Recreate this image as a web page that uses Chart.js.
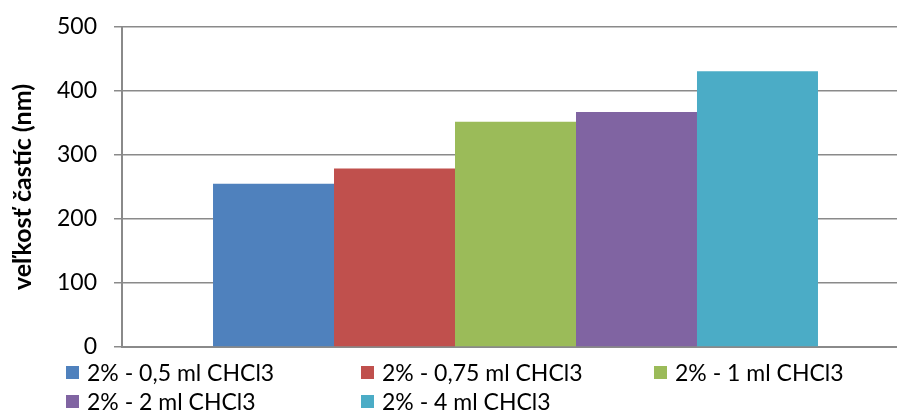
<!DOCTYPE html>
<html>
<head>
<meta charset="utf-8">
<script src="https://cdn.jsdelivr.net/npm/chart.js@4/dist/chart.umd.min.js"></script>
<style>
  html, body { margin: 0; padding: 0; background: #fff; overflow: hidden; }
  #wrap { position: relative; width: 897px; height: 410px; overflow: hidden; }
  #box { position: absolute; left: 0; top: 0; width: 909px; height: 410px; }
  #legend { position: absolute; left: 0; top: 0; width: 897px; height: 410px; pointer-events: none;
            font-family: Lato, "Noto Sans", sans-serif; font-size: 23px; color: #000; }
  .item { position: absolute; white-space: nowrap; line-height: 26px; height: 26px; }
  .sw { position: absolute; left: 0; top: 7px; width: 13px; height: 13px; }
  .tx { position: absolute; left: 21px; top: 0; }
</style>
</head>
<body>
<div id="wrap">
  <div id="box"><canvas id="c"></canvas></div>
  <div id="legend"></div>
</div>
<script>
// Particle size by amount of chloroform (2 % solution)
const categories = [''];
const seriesNames = [
  '2% - 0,5 ml CHCl3',
  '2% - 0,75 ml CHCl3',
  '2% - 1 ml CHCl3',
  '2% - 2 ml CHCl3',
  '2% - 4 ml CHCl3'
];
const sizeNm = [255, 279, 352, 367, 431];
const yTicks = [0, 100, 200, 300, 400, 500];
const axisTitle = 'veľkosť častíc (nm)';

const colors = ['#4F81BD', '#C0504D', '#9BBB59', '#8064A2', '#4BACC6'];
const gridColor = '#8a8a8a';
const font = 'Lato, "Noto Sans", sans-serif';

const datasets = seriesNames.map((name, i) => ({
  label: name,
  data: [sizeNm[i]],
  backgroundColor: colors[i],
  borderWidth: 0,
  categoryPercentage: 0.7687,
  barPercentage: 1
}));

new Chart(document.getElementById('c'), {
  type: 'bar',
  data: { labels: categories, datasets },
  options: {
    responsive: true,
    maintainAspectRatio: false,
    animation: false,
    layout: { padding: { top: 27, right: 0, bottom: 0, left: 0 } },
    plugins: { legend: { display: false }, tooltip: { enabled: false } },
    scales: {
      x: {
        grid: { display: false },
        border: { display: true, color: gridColor, width: 2 },
        ticks: { display: false },
        afterFit: s => { s.height = 63; s.paddingLeft = 0; s.paddingRight = 0; }
      },
      y: {
        min: 0,
        max: 500,
        afterBuildTicks: s => { s.ticks = yTicks.map(v => ({ value: v })); },
        ticks: { color: '#000', padding: 17, font: { family: font, size: 23 } },
        grid: { color: gridColor, lineWidth: 1.5, tickLength: 8, drawTicks: true },
        border: { display: true, color: gridColor, width: 2 },
        title: {
          display: true,
          text: axisTitle,
          color: '#000',
          font: { family: font, size: 25, weight: 'bold' },
          padding: { top: 8, bottom: 0 }
        },
        afterFit: s => { s.width = 122; s.paddingTop = 0; s.paddingBottom = 0; }
      }
    }
  }
});

// Legend laid out in three columns below the plot
const legendPos = [[66, 359], [361, 359], [654, 359], [66, 388], [361, 388]];
const legend = document.getElementById('legend');
seriesNames.forEach((name, i) => {
  const d = document.createElement('div');
  d.className = 'item';
  d.style.left = legendPos[i][0] + 'px';
  d.style.top = legendPos[i][1] + 'px';
  const sw = document.createElement('span');
  sw.className = 'sw';
  sw.style.background = colors[i];
  const tx = document.createElement('span');
  tx.className = 'tx';
  tx.textContent = name;
  d.appendChild(sw);
  d.appendChild(tx);
  legend.appendChild(d);
});
</script>
</body>
</html>
